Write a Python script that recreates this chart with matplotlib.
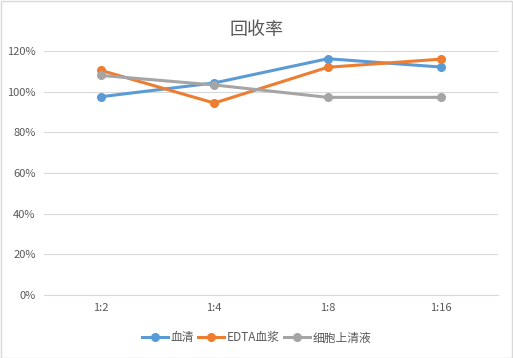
import matplotlib.pyplot as plt
from matplotlib.ticker import PercentFormatter

plt.rcParams['font.family'] = ['Noto Sans CJK SC', 'DejaVu Sans']

categories = ["1:2", "1:4", "1:8", "1:16"]
serum = [97.5, 104.3, 116.2, 112.1]
edta_plasma = [110.5, 94.4, 112.0, 116.0]
cell_supernatant = [108.0, 103.3, 97.2, 97.2]
series_names = ["血清", "EDTA血浆", "细胞上清液"]
colors = ["#5b9bd5", "#ed7d31", "#a5a5a5"]

fig = plt.figure(figsize=(5.13, 3.58), dpi=100)
ax = fig.add_axes([44 / 513, 1 - 295 / 358, 454 / 513, 244 / 358])

x = range(len(categories))
for vals, name, c in zip([serum, edta_plasma, cell_supernatant], series_names, colors):
    ax.plot(x, vals, color=c, lw=2.2, marker='o', ms=5.5, label=name)

ax.set_xlim(-0.5, len(categories) - 0.5)
ax.set_ylim(0, 120)
ax.set_yticks(range(0, 121, 20))
ax.yaxis.set_major_formatter(PercentFormatter(decimals=0))
ax.set_xticks(list(x))
ax.set_xticklabels(categories)
ax.tick_params(length=0, labelsize=8, colors="#595959", pad=6)
ax.grid(axis='y', color="#d9d9d9", lw=0.8)
ax.set_axisbelow(True)
for s in ["top", "right", "left"]:
    ax.spines[s].set_visible(False)
ax.spines["bottom"].set_color("#d9d9d9")

fig.text(0.5, 1 - 30 / 358, "回收率", ha='center', va='center', fontsize=13, color="#595959")
fig.legend(loc='center', bbox_to_anchor=(0.5, 1 - 338 / 358), ncol=3, frameon=False,
           fontsize=8.5, handlelength=2.2, columnspacing=0.4, handletextpad=0.2, labelcolor="#595959")

fig.patches.append(plt.Rectangle((0.001, 0.001), 0.997, 0.997, transform=fig.transFigure,
                                 fill=False, edgecolor="#d9d9d9", lw=1))

fig.savefig("out.png", dpi=100)
